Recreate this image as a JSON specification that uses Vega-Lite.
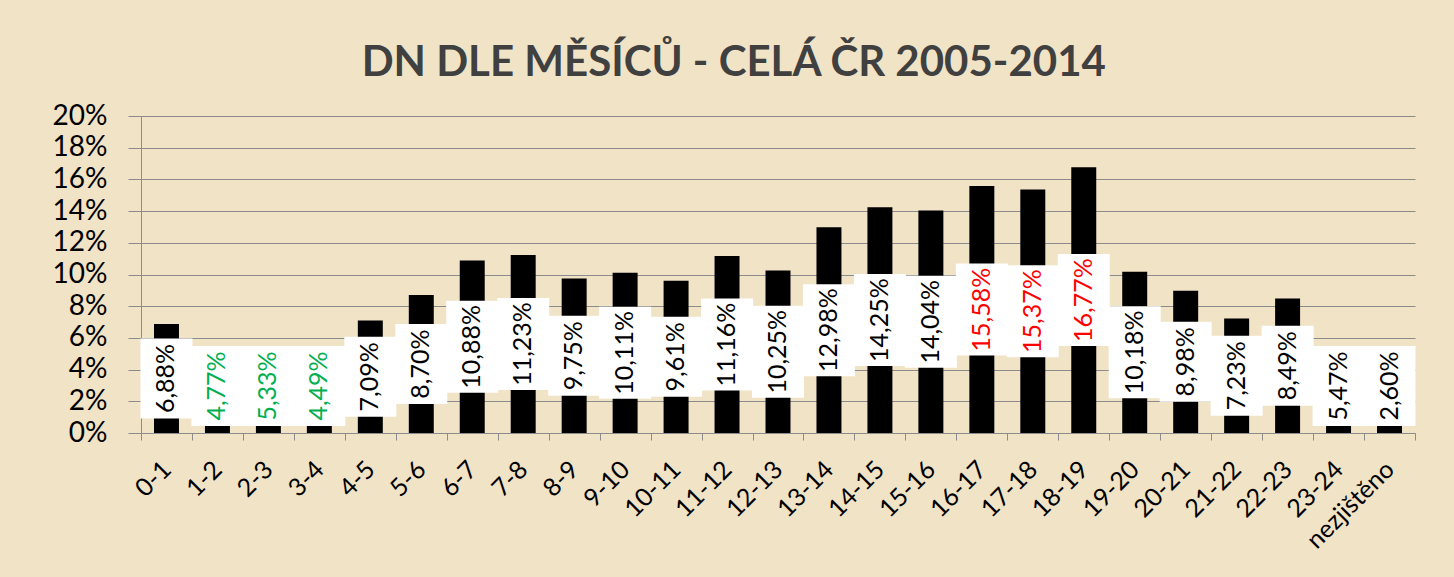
{
  "$schema": "https://vega.github.io/schema/vega-lite/v6.json",
  "width": 1274,
  "height": 317,
  "autosize": "none",
  "padding": {"left": 141, "top": 116, "right": 39, "bottom": 144},
  "background": "#f1e3c6",
  "title": {
    "text": "DN DLE MĚSÍCŮ - CELÁ ČR 2005-2014",
    "font": "Lato",
    "fontSize": 42,
    "fontWeight": "bold",
    "color": "#404040",
    "anchor": "middle",
    "frame": "bounds",
    "offset": 17
  },
  "data": {
    "values": [
      {"hodina": "0-1", "podil": 0.0688},
      {"hodina": "1-2", "podil": 0.0477},
      {"hodina": "2-3", "podil": 0.0533},
      {"hodina": "3-4", "podil": 0.0449},
      {"hodina": "4-5", "podil": 0.0709},
      {"hodina": "5-6", "podil": 0.0870},
      {"hodina": "6-7", "podil": 0.1088},
      {"hodina": "7-8", "podil": 0.1123},
      {"hodina": "8-9", "podil": 0.0975},
      {"hodina": "9-10", "podil": 0.1011},
      {"hodina": "10-11", "podil": 0.0961},
      {"hodina": "11-12", "podil": 0.1116},
      {"hodina": "12-13", "podil": 0.1025},
      {"hodina": "13-14", "podil": 0.1298},
      {"hodina": "14-15", "podil": 0.1425},
      {"hodina": "15-16", "podil": 0.1404},
      {"hodina": "16-17", "podil": 0.1558},
      {"hodina": "17-18", "podil": 0.1537},
      {"hodina": "18-19", "podil": 0.1677},
      {"hodina": "19-20", "podil": 0.1018},
      {"hodina": "20-21", "podil": 0.0898},
      {"hodina": "21-22", "podil": 0.0723},
      {"hodina": "22-23", "podil": 0.0849},
      {"hodina": "23-24", "podil": 0.0547},
      {"hodina": "nezjištěno", "podil": 0.0260}
    ]
  },
  "encoding": {
    "x": {
      "field": "hodina",
      "type": "nominal",
      "sort": null,
      "scale": {"paddingInner": 0, "paddingOuter": 0},
      "axis": {
        "title": null,
        "labelAngle": -45,
        "labelAlign": "right",
        "labelBaseline": "middle",
        "labelFont": "Lato",
        "labelFontSize": 25,
        "labelColor": "#000000",
        "labelPadding": 25,
        "tickBand": "extent",
        "tickSize": 7,
        "tickColor": "#8c8c8c",
        "domainColor": "#8c8c8c",
        "grid": false
      }
    }
  },
  "layer": [
    {
      "mark": {"type": "bar", "color": "#000000", "width": {"band": 0.49}},
      "encoding": {
        "y": {
          "field": "podil",
          "type": "quantitative",
          "scale": {"domain": [0, 0.2], "nice": false},
          "axis": {
            "title": null,
            "values": [0, 0.02, 0.04, 0.06, 0.08, 0.1, 0.12, 0.14, 0.16, 0.18, 0.2],
            "format": ".0%",
            "labelFont": "Lato",
            "labelFontSize": 28,
            "labelColor": "#000000",
            "labelPadding": 21,
            "tickSize": 13,
            "tickColor": "#8c8c8c",
            "domainColor": "#8c8c8c",
            "gridColor": "#8c8c8c",
            "gridWidth": 1
          }
        }
      }
    },
    {
      "transform": [{"filter": "datum.podil < 0.1"}],
      "mark": {"type": "tick", "color": "#ffffff", "opacity": 1, "thickness": 80, "size": 52},
      "encoding": {
        "y": {"field": "podil", "type": "quantitative", "scale": {"domain": [0.0593, 0.4], "range": [270, 0], "nice": false, "zero": false, "clamp": true}, "axis": null}
      }
    },
    {
      "transform": [{"filter": "datum.podil >= 0.1"}],
      "mark": {"type": "tick", "color": "#ffffff", "opacity": 1, "thickness": 92, "size": 52},
      "encoding": {
        "y": {"field": "podil", "type": "quantitative", "scale": {"domain": [0.0593, 0.4], "range": [270, 0], "nice": false, "zero": false, "clamp": true}, "axis": null}
      }
    },
    {
      "mark": {"type": "text", "angle": 270, "align": "center", "baseline": "middle", "font": "Lato", "fontSize": 25},
      "encoding": {
        "y": {"field": "podil", "type": "quantitative", "scale": {"domain": [0.0593, 0.4], "range": [270, 0], "nice": false, "zero": false, "clamp": true}, "axis": null},
        "text": {"field": "podil", "type": "quantitative", "format": ".2%"},
        "color": {
          "condition": [
            {"test": "indexof(['1-2','2-3','3-4'], datum.hodina) >= 0", "value": "#00b050"},
            {"test": "indexof(['16-17','17-18','18-19'], datum.hodina) >= 0", "value": "#ff0000"}
          ],
          "value": "#000000"
        }
      }
    }
  ],
  "resolve": {"scale": {"y": "independent"}},
  "config": {
    "view": {"stroke": null},
    "locale": {"number": {"decimal": ",", "thousands": "\u00a0", "grouping": [3], "currency": ["", " Kč"]}}
  }
}
